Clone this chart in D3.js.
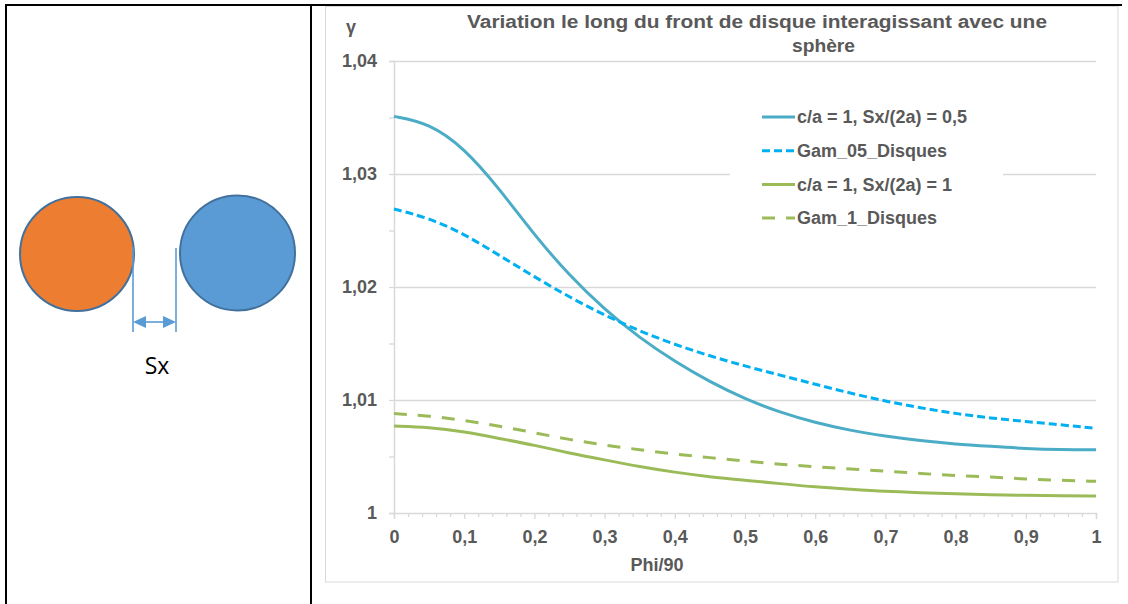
<!DOCTYPE html>
<html>
<head>
<meta charset="utf-8">
<script src="https://cdn.jsdelivr.net/npm/d3@7"></script>
<style>
  body { margin: 0; background: #fff; }
  svg { display: block; }
  .chart text { font-family: "Liberation Sans", Arial, sans-serif; font-weight: bold; fill: #595959; }
</style>
</head>
<body>
<svg width="1128" height="604"></svg>
<script>
const phi = [0, 0.05, 0.1, 0.15, 0.2, 0.25, 0.3, 0.35, 0.4, 0.45, 0.5,
             0.55, 0.6, 0.65, 0.7, 0.75, 0.8, 0.85, 0.9, 0.95, 1];

// c/a = 1, Sx/(2a) = 0,5
const sphere05 = [1.0351, 1.0345, 1.0323, 1.0287, 1.0246, 1.0210, 1.0180, 1.0155, 1.0134, 1.0116, 1.0101,
                  1.0089, 1.0080, 1.0073, 1.0068, 1.0064, 1.0061, 1.0059, 1.0057, 1.0056, 1.0056];
// Gam_05_Disques
const disks05 = [1.0269, 1.0261, 1.0247, 1.0228, 1.0209, 1.0191, 1.0175, 1.0161, 1.0149, 1.0139, 1.0130,
                 1.0122, 1.0114, 1.0106, 1.0099, 1.0093, 1.0088, 1.0084, 1.0081, 1.0078, 1.0075];
// c/a = 1, Sx/(2a) = 1
const sphere1 = [1.0077, 1.0076, 1.0072, 1.0066, 1.0060, 1.0053, 1.0047, 1.0041, 1.0036, 1.0032, 1.0029,
                 1.0026, 1.0023, 1.0021, 1.0019, 1.0018, 1.0017, 1.00162, 1.00156, 1.00152, 1.0015];
// Gam_1_Disques
const disks1 = [1.0088, 1.0086, 1.0082, 1.0077, 1.0071, 1.0065, 1.0060, 1.0056, 1.0052, 1.0049, 1.0046,
                1.0043, 1.0041, 1.0039, 1.0037, 1.0035, 1.0033, 1.0032, 1.0030, 1.0029, 1.0028];

const seriesNames = ["c/a = 1, Sx/(2a) = 0,5", "Gam_05_Disques", "c/a = 1, Sx/(2a) = 1", "Gam_1_Disques"];
const seriesColors = ["#4BACC6", "#00B0F0", "#9BBB59", "#9BBB59"];
const seriesDash = [null, "8,4", null, "13,11"];

const yTicks = [1, 1.01, 1.02, 1.03, 1.04];
const yMinor = [1.005, 1.015, 1.025, 1.035];
const xTicks = [0, 0.1, 0.2, 0.3, 0.4, 0.5, 0.6, 0.7, 0.8, 0.9, 1];
const xMinor = [0.02, 0.04, 0.06, 0.08, 0.12, 0.14, 0.16, 0.18, 0.22, 0.24, 0.26, 0.28,
                0.32, 0.34, 0.36, 0.38, 0.42, 0.44, 0.46, 0.48, 0.52, 0.54, 0.56, 0.58,
                0.62, 0.64, 0.66, 0.68, 0.72, 0.74, 0.76, 0.78, 0.82, 0.84, 0.86, 0.88,
                0.92, 0.94, 0.96, 0.98];

const titleLines = ["Variation le long du front de disque interagissant avec une", "sphère"];

var svg = d3.select("svg");

// ----- table borders -----
var table = svg.append("g").attr("stroke", "#000").attr("stroke-width", 2);
table.append("line").attr("x1", 5).attr("x2", 1122).attr("y1", 5).attr("y2", 5);
table.append("line").attr("x1", 6).attr("x2", 6).attr("y1", 4).attr("y2", 604);
table.append("line").attr("x1", 311).attr("x2", 311).attr("y1", 4).attr("y2", 604);

// ----- left sketch: two disks and the gap Sx -----
var sketch = svg.append("g");
sketch.append("circle").attr("cx", 77).attr("cy", 254).attr("r", 57)
    .attr("fill", "#ED7D31").attr("stroke", "#41719C").attr("stroke-width", 2);
sketch.append("circle").attr("cx", 237.5).attr("cy", 253).attr("r", 57.5)
    .attr("fill", "#5B9BD5").attr("stroke", "#41719C").attr("stroke-width", 2);

var dim = sketch.append("g").attr("stroke", "#5B9BD5").attr("stroke-width", 1.6);
dim.append("line").attr("x1", 133).attr("x2", 133).attr("y1", 247).attr("y2", 332);
dim.append("line").attr("x1", 176).attr("x2", 176).attr("y1", 248).attr("y2", 332);
dim.append("line").attr("x1", 140).attr("x2", 170).attr("y1", 322).attr("y2", 322);
sketch.append("path").attr("d", "M133,322 L146,316 L146,328 Z").attr("fill", "#5B9BD5");
sketch.append("path").attr("d", "M176,322 L163,316 L163,328 Z").attr("fill", "#5B9BD5");
sketch.append("text").attr("x", 157).attr("y", 374).attr("text-anchor", "middle")
    .style("font-family", "'Open Sans', sans-serif").style("font-size", "23px")
    .text("Sx");

// ----- chart -----
var chart = svg.append("g").attr("class", "chart");
chart.append("rect").attr("x", 325.5).attr("y", 6.5).attr("width", 792.5).attr("height", 575.5)
    .attr("fill", "none").attr("stroke", "#d9d9d9");

var x = d3.scaleLinear().domain([0, 1]).range([394, 1096]);
var y = d3.scaleLinear().domain([1, 1.04]).range([513, 61]);
var comma = function (d) { return String(d).replace(".", ","); };

// gridlines
chart.append("g").selectAll("line").data(yTicks.slice(1)).join("line")
    .attr("x1", x(0)).attr("x2", x(1))
    .attr("y1", function (d) { return Math.round(y(d)) + 0.5; })
    .attr("y2", function (d) { return Math.round(y(d)) + 0.5; })
    .attr("stroke", "#d9d9d9").attr("stroke-width", 1.3);

function styleAxis(g) {
    g.select(".domain").attr("stroke", "#d9d9d9").attr("stroke-width", 1.5);
    g.selectAll(".tick line").attr("stroke", "#d9d9d9").attr("stroke-width", 1.3);
    g.selectAll(".tick text").style("font-size", "18px").attr("fill", "#595959");
}

var yAxis = chart.append("g").attr("transform", "translate(394,0)")
    .call(d3.axisLeft(y).tickValues(yTicks).tickFormat(comma).tickSize(5).tickPadding(12));
styleAxis(yAxis);
yAxis.append("g").call(d3.axisLeft(y).tickValues(yMinor).tickFormat("").tickSize(5))
    .call(styleAxis).select(".domain").remove();

var xAxis = chart.append("g").attr("transform", "translate(0,513)")
    .call(d3.axisBottom(x).tickValues(xTicks).tickFormat(comma).tickSize(6).tickPadding(11));
styleAxis(xAxis);
xAxis.append("g").call(d3.axisBottom(x).tickValues(xMinor).tickFormat("").tickSize(4))
    .call(styleAxis).select(".domain").remove();

// series
var series = [sphere05, disks05, sphere1, disks1];
var line = d3.line()
    .x(function (d, i) { return x(phi[i]); })
    .y(function (d) { return y(d); })
    .curve(d3.curveBasis);

chart.append("g").selectAll("path").data(series).join("path")
    .attr("d", line)
    .attr("fill", "none")
    .attr("stroke", function (d, i) { return seriesColors[i]; })
    .attr("stroke-width", 3)
    .attr("stroke-dasharray", function (d, i) { return seriesDash[i]; });

// titles
chart.append("text").attr("x", 467).attr("y", 28)
    .style("font-size", "18px").attr("textLength", 580).attr("lengthAdjust", "spacingAndGlyphs")
    .text(titleLines[0]);
chart.append("text").attr("x", 792).attr("y", 52)
    .style("font-size", "18px").attr("textLength", 63).attr("lengthAdjust", "spacingAndGlyphs")
    .text(titleLines[1]);
chart.append("text").attr("x", 351).attr("y", 33).attr("text-anchor", "middle")
    .style("font-size", "18px").text("γ");
chart.append("text").attr("x", 657).attr("y", 571).attr("text-anchor", "middle")
    .style("font-size", "18px").text("Phi/90");

// legend
var legend = chart.append("g").attr("transform", "translate(730,95)");
legend.append("rect").attr("width", 273).attr("height", 145).attr("fill", "#fff");
var rows = legend.selectAll("g").data(seriesNames).join("g")
    .attr("transform", function (d, i) { return "translate(0," + (22 + i * 33.7) + ")"; });
rows.append("line").attr("x1", 32).attr("x2", 65)
    .attr("stroke", function (d, i) { return seriesColors[i]; })
    .attr("stroke-width", 3)
    .attr("stroke-dasharray", function (d, i) { return seriesDash[i]; });
rows.append("text").attr("x", 67).attr("dy", "0.35em")
    .style("font-size", "18px").text(function (d) { return d; });
</script>
</body>
</html>
